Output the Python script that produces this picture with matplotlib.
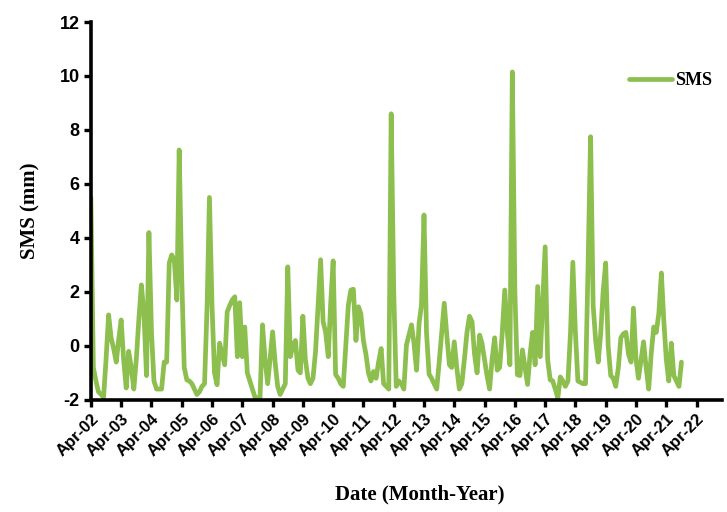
import pandas as pd
import matplotlib.pyplot as plt
import matplotlib.dates as mdates

plt.rcParams['axes.unicode_minus'] = False

# Monthly SMS values (mm), Apr-2002 onwards
sms = [
    5.5, -0.8, -1.3, -1.7, -1.8, -1.9, -0.5, 1.15, 0.3, -0.1,
    -0.6, 0.2, 0.96, -0.5, -1.56, -0.2, -0.8, -1.6, -0.5, 1.0,
    2.26, 1.2, -1.1, 4.2, 0.5, -1.3, -1.6, -1.6, -1.6, -0.6,
    -0.6, 3.07, 3.37, 3.2, 1.7, 7.26, 2.5, -0.8, -1.26, -1.3,
    -1.4, -1.6, -1.8, -1.7, -1.5, -1.4, 1.5, 5.5, 1.5, -1.0,
    -1.44, 0.1, -0.3, -0.7, 1.26, 1.5, 1.7, 1.82, -0.4, 1.6,
    -0.4, 0.7, -1.0, -1.3, -1.6, -1.9, -1.93, -1.93, 0.78, -0.5,
    -1.4, -0.5, 0.52, -0.6, -1.5, -1.8, -1.6, -1.4, 2.93, -0.4,
    0.0, 0.2, -0.9, -1.0, 1.1, -0.5, -1.2, -1.4, -1.2, -0.2,
    1.5, 3.19, 0.9, 0.5, -0.4, 1.5, 3.15, -1.06, -1.2, -1.4,
    -1.5, 0.0, 1.5, 2.07, 2.1, 0.2, 1.45, 1.2, 0.2, -0.3,
    -1.0, -1.3, -0.95, -1.2, -0.6, -0.1, -1.4, -1.5, -1.6, 8.6,
    2.0, -1.5, -1.3, -1.4, -1.6, 0.03, 0.4, 0.78, 0.1, -0.9,
    0.85, 1.5, 4.85, 0.5, -1.05, -1.2, -1.4, -1.6, -0.6, 0.5,
    1.58, 0.4, -0.7, -0.8, 0.15, -0.8, -1.6, -1.4, -0.5, 0.5,
    1.1, 0.9, -0.3, -1.0, 0.4, 0.1, -0.5, -1.1, -1.6, -0.5,
    0.3, -0.9, -0.8, 0.5, 2.07, 0.5, -0.7, 10.15, 2.0, -1.07,
    -1.1, -0.15, -0.8, -1.43, -0.3, 0.5, -0.7, 2.2, -0.4, 1.5,
    3.67, -0.5, -1.26, -1.3, -1.6, -1.93, -1.15, -1.3, -1.5, -1.3,
    0.5, 3.1, 0.5, -1.3, -1.35, -1.4, -1.4, 3.0, 7.75, 1.5,
    0.2, -0.6, 0.5, 2.0, 3.07, 0.0, -1.1, -1.2, -1.5, -0.8,
    0.3, 0.45, 0.5, -0.3, -0.6, 1.4, -0.5, -1.2, -0.5, 0.15,
    -0.8, -1.6, -0.3, 0.7, 0.5, 1.2, 2.7, 1.0, -0.5, -1.3,
    0.1, -1.1, -1.3, -1.5, -0.6,
]
dates = pd.date_range('2002-04-01', periods=len(sms), freq='MS')

tick_dates = pd.date_range('2002-04-01', '2022-04-01', freq='12MS')
y_ticks = [-2, 0, 2, 4, 6, 8, 10, 12]

fig = plt.figure(figsize=(7.27, 5.12), dpi=100)
ax = fig.add_axes([0.125, 0.219, 0.868, 0.738])

ax.plot(dates, sms, color='#8CBF4E', linewidth=3.4, label='SMS',
        solid_joinstyle='round', solid_capstyle='round')

ax.set_xlim(pd.Timestamp('2002-04-01'), pd.Timestamp('2023-02-01'))
ax.set_ylim(-2, 12)
ax.set_yticks(y_ticks)
ax.set_xticks(tick_dates)
ax.xaxis.set_major_formatter(mdates.DateFormatter('%b-%y'))

for side in ['top', 'right']:
    ax.spines[side].set_visible(False)
for side in ['left', 'bottom']:
    ax.spines[side].set_linewidth(2.6)
    ax.spines[side].set_color('black')

ax.tick_params(axis='both', direction='out', length=5, width=2.4, color='black')
ax.tick_params(axis='y', pad=3)
for lbl in ax.get_yticklabels():
    lbl.set_fontfamily('Liberation Sans')
    lbl.set_fontweight('bold')
    lbl.set_fontsize(13)
for lbl in ax.get_xticklabels():
    lbl.set_fontfamily('Liberation Sans')
    lbl.set_fontweight('bold')
    lbl.set_fontsize(12)
    lbl.set_rotation(45)
    lbl.set_ha('right')
    lbl.set_rotation_mode('anchor')

ax.set_ylabel('SMS (mm)', fontfamily='Liberation Serif', fontweight='bold',
              fontsize=15, labelpad=14)
ax.set_xlabel('Date (Month-Year)', fontfamily='Liberation Serif', fontweight='bold',
              fontsize=15)
ax.xaxis.set_label_coords(0.521, -0.225)

ax.legend(loc='upper right', bbox_to_anchor=(1.01, 0.91), frameon=False,
          handlelength=2.4, handletextpad=0.15,
          prop={'family': 'Liberation Serif', 'weight': 'bold', 'size': 13})

fig.savefig('out.png', dpi=100)
